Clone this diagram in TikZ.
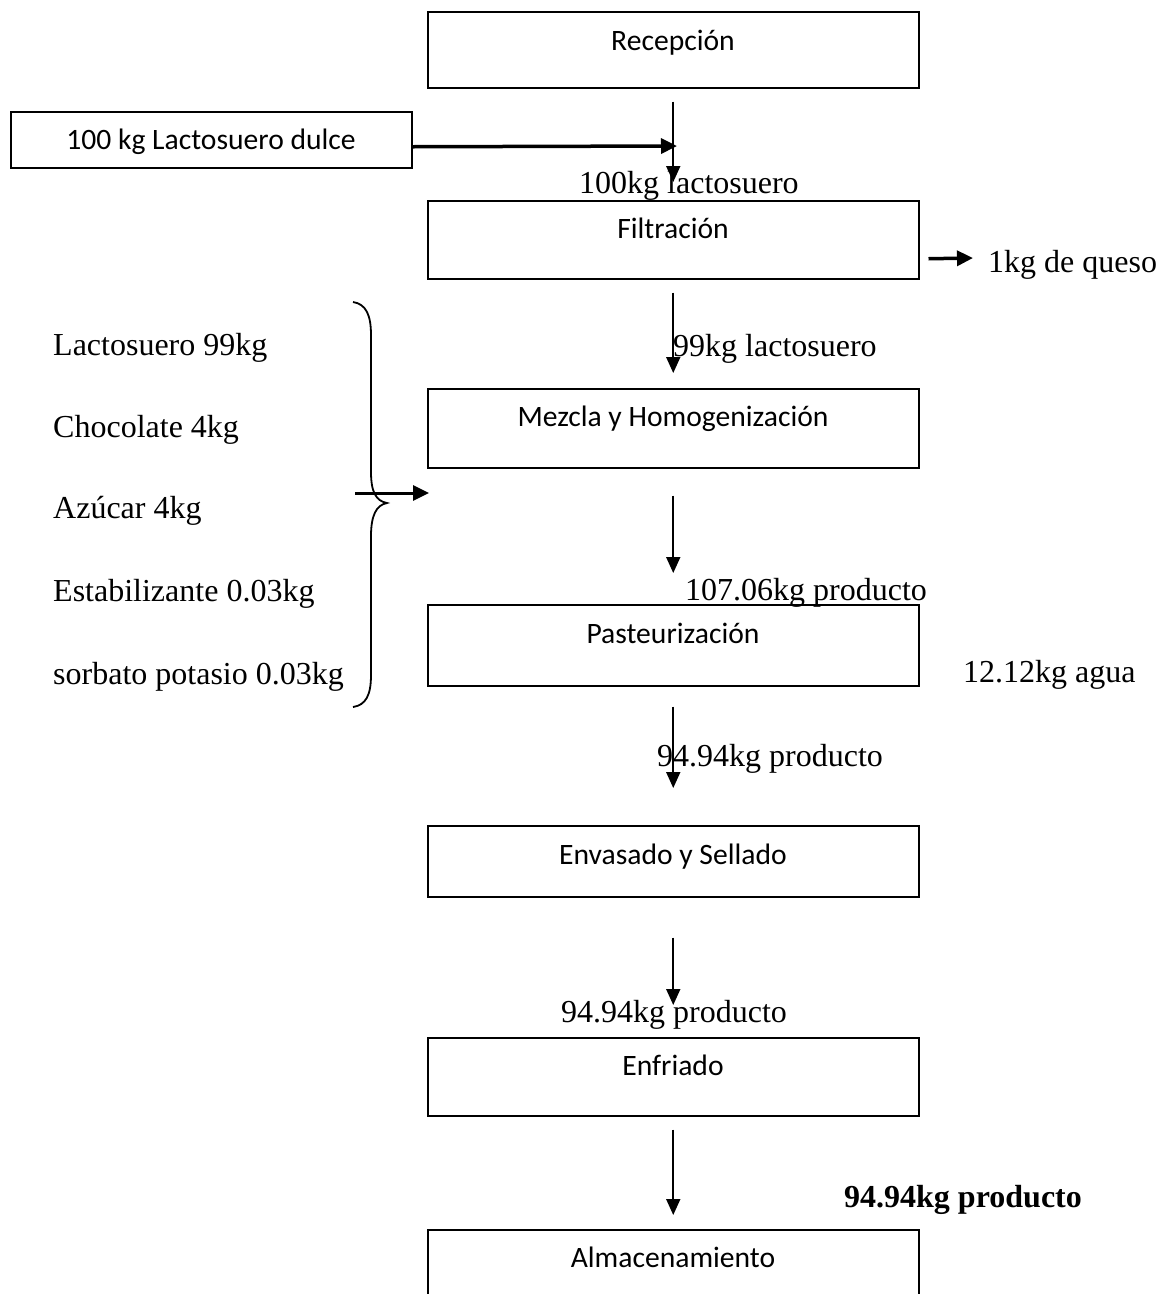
\documentclass[tikz,border=0pt]{standalone}
\usepackage{fontspec}
\setmainfont{Liberation Serif}
\newfontfamily\calibri{Carlito}
\usetikzlibrary{arrows.meta}
\begin{document}
\begin{tikzpicture}[x=1pt,y=-1pt,
  box/.style={draw, line width=1.5pt, inner sep=0pt, anchor=north west, minimum width=491pt},
  btxt/.style={font=\calibri\fontsize{29.6}{34}\selectfont, inner sep=0pt, anchor=base},
  lbl/.style={font=\fontsize{32}{38}\selectfont, inner sep=0pt, anchor=base west},
  thin arrow/.style={line width=1.8pt, -{Triangle[length=16pt,width=14pt]}},
  thick arrow/.style={line width=3.5pt, -{Triangle[length=16pt,width=15pt]}},
  brace line/.style={line width=1.8pt}]
\useasboundingbox (0,0) rectangle (1160,1294);
\fill[white] (0,0) rectangle (1160,1294);

% boxes
\node[box, minimum height=76pt] (rec) at (427,11) {};
\node[box, minimum width=401pt, minimum height=56pt] (dul) at (10,111) {};
\node[box, minimum height=78pt] (fil) at (427,200) {};
\node[box, minimum height=79pt] (mez) at (427,388) {};
\node[box, minimum height=81pt] (pas) at (427,604) {};
\node[box, minimum height=71pt] (env) at (427,825) {};
\node[box, minimum height=78pt] (enf) at (427,1037) {};
\node[box, minimum height=100pt] (alm) at (427,1229) {};

% box texts
\node[btxt] (recT) at (673,50) {Recepción};
\node[btxt] (dulT) at (211,149) {100 kg Lactosuero dulce};
\node[btxt] (filT) at (673,238) {Filtración};
\node[btxt] (mezT) at (673,426) {Mezcla y Homogenización};
\node[btxt] (pasT) at (673,643) {Pasteurización};
\node[btxt] (envT) at (673,864) {Envasado y Sellado};
\node[btxt] (enfT) at (673,1075) {Enfriado};
\node[btxt] (almT) at (673,1267) {Almacenamiento};

% flow labels
\node[lbl] (l1) at (579,193) {100kg lactosuero};
\node[lbl] (l2) at (673,356) {99kg lactosuero};
\node[lbl] (l3) at (685,600) {107.06kg producto};
\node[lbl] (l4) at (657,766) {94.94kg producto};
\node[lbl] (l5) at (561,1022) {94.94kg producto};
\node[lbl, font=\bfseries\fontsize{32}{38}\selectfont] (l6) at (844,1207) {94.94kg producto};
\node[lbl] (queso) at (988,272) {1kg de queso};
\node[lbl] (agua) at (963,682) {12.12kg agua};

% ingredients
\node[lbl] (i1) at (53,355) {Lactosuero 99kg};
\node[lbl] (i2) at (53,437) {Chocolate 4kg};
\node[lbl] (i3) at (53,518) {Azúcar 4kg};
\node[lbl] (i4) at (53,601) {Estabilizante 0.03kg};
\node[lbl] (i5) at (53,684) {sorbato potasio 0.03kg};

% brace
\draw[brace line] (353,302) .. controls (366,304) and (371,315) .. (371,335)
  -- (371,472) .. controls (371,492) and (376,501) .. (387,503)
  .. controls (376,505) and (371,516) .. (371,536)
  -- (371,675) .. controls (371,695) and (366,705) .. (353,707);

% main flow arrows
\draw[thin arrow] ([yshift=-13pt]rec.south) -- ([yshift=18pt]fil.north);
\draw[thin arrow] ([yshift=-13pt]fil.south) -- ([yshift=15pt]mez.north);
\draw[thin arrow] ([yshift=-27pt]mez.south) -- ([yshift=31pt]pas.north);
\draw[thin arrow] ([yshift=-20pt]pas.south) -- ([yshift=37pt]env.north);
\draw[thin arrow] ([yshift=-40pt]env.south) -- ([yshift=32pt]enf.north);
\draw[thin arrow] ([yshift=-13pt]enf.south) -- ([yshift=14pt]alm.north);

% side arrows
\coordinate (j1) at (677,146);
\draw[thick arrow] ([yshift=-7pt]dul.east) -- (j1);
\coordinate (q1) at (973,258);
\draw[thick arrow] ([xshift=9pt,yshift=-19pt]fil.east) -- (q1);
\coordinate (b0) at (355,493);
\coordinate (b1) at (429,493);
\draw[thick arrow, line width=3pt] (b0) -- (b1);
\end{tikzpicture}
\end{document}
